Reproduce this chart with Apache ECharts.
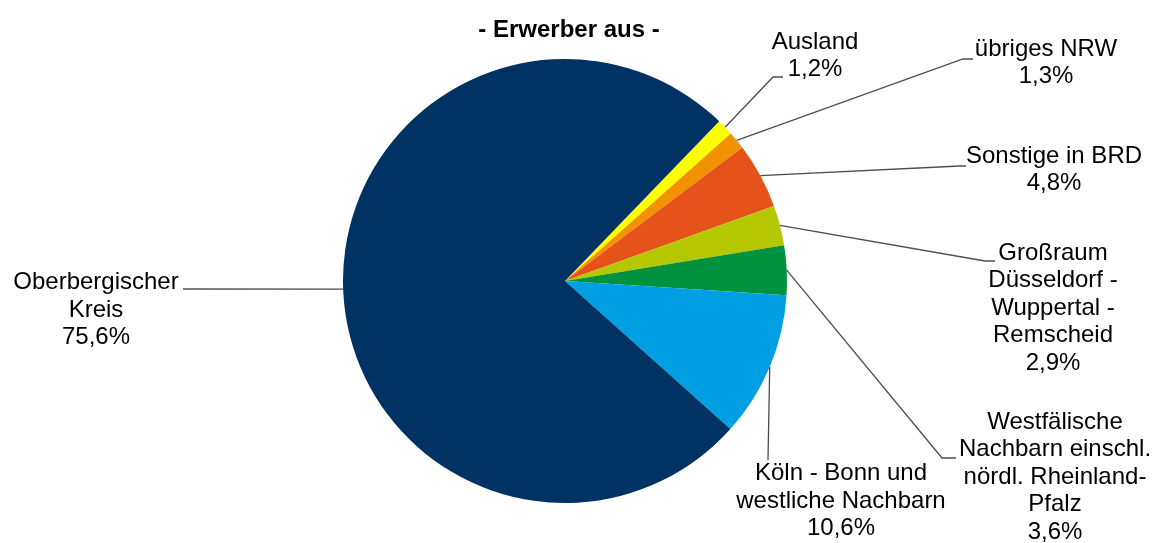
<!DOCTYPE html>
<html>
<head>
<meta charset="utf-8">
<script src="https://cdn.jsdelivr.net/npm/echarts@6/dist/echarts.min.js"></script>
<style>
  html, body { margin: 0; padding: 0; background: #fff; }
  #chart { width: 1158px; height: 543px; }
</style>
</head>
<body>
<div id="chart"></div>
<script>
// Anteile der Erwerber (im Uhrzeigersinn ab Ausland)
var names = [
  'Ausland',
  'übriges NRW',
  'Sonstige in BRD',
  'Großraum\nDüsseldorf -\nWuppertal -\nRemscheid',
  'Westfälische\nNachbarn einschl.\nnördl. Rheinland-\nPfalz',
  'Köln - Bonn und\nwestliche Nachbarn',
  'Oberbergischer\nKreis'
]
var values = [1.2, 1.3, 4.8, 2.9, 3.6, 10.6, 75.6]
var colors = ['#FFFF00', '#F39200', '#E5521A', '#B4C700', '#00923F', '#009FE3', '#003264']

// Position der Beschriftungen (Mitte des Textblocks) und Knick der Linie
var labelPos = [
  {x: 815, y: 56, line: [[773, 77], [783, 77]]},
  {x: 1046, y: 63, line: [[963, 59], [973, 59]]},
  {x: 1054, y: 170, line: [[960, 166], [966, 166]]},
  {x: 1053, y: 308, line: [[985, 261], [995, 261]]},
  {x: 1055, y: 477, line: [[942, 458], [956, 458]]},
  {x: 841, y: 501, line: [[768, 460], [768, 460]]},
  {x: 96, y: 310, line: [[190, 289], [183, 289]]}
]

var chartData = names.map(function (n, i) {
  return {name: n, value: values[i], itemStyle: {color: colors[i]}}
})

var myChart = echarts.init(document.getElementById('chart'), null, {renderer: 'canvas'})

var option = {
  animation: false,
  backgroundColor: '#ffffff',
  title: {
    text: '- Erwerber aus -',
    left: 564,
    top: 13,
    textAlign: 'center',
    textStyle: {
      fontFamily: 'Liberation Sans',
      fontWeight: 'bold',
      fontSize: 24,
      color: '#000'
    }
  },
  series: [
    {
      type: 'pie',
      center: [565, 281],
      radius: 222,
      startAngle: 46,
      clockwise: true,
      avoidLabelOverlap: false,
      data: chartData,
      itemStyle: {borderWidth: 0},
      label: {
        show: true,
        position: 'outside',
        fontFamily: 'Liberation Sans',
        fontSize: 24,
        lineHeight: 27.5,
        color: '#000',
        align: 'center',
        formatter: function (p) {
          return p.name + '\n' + p.value.toFixed(1).replace('.', ',') + '%'
        }
      },
      labelLine: {
        show: true,
        length: 20,
        length2: 10,
        smooth: false,
        lineStyle: {color: '#4d4d4d', width: 1.3}
      },
      labelLayout: function (params) {
        var lp = labelPos[params.dataIndex]
        var start = params.labelLinePoints ? params.labelLinePoints[0] : lp.line[0]
        return {
          x: lp.x,
          y: lp.y,
          align: 'center',
          verticalAlign: 'middle',
          labelLinePoints: [start, lp.line[0], lp.line[1]]
        }
      }
    }
  ]
}

myChart.setOption(option)
window.addEventListener('resize', function () {
  myChart.resize()
})
</script>
</body>
</html>
